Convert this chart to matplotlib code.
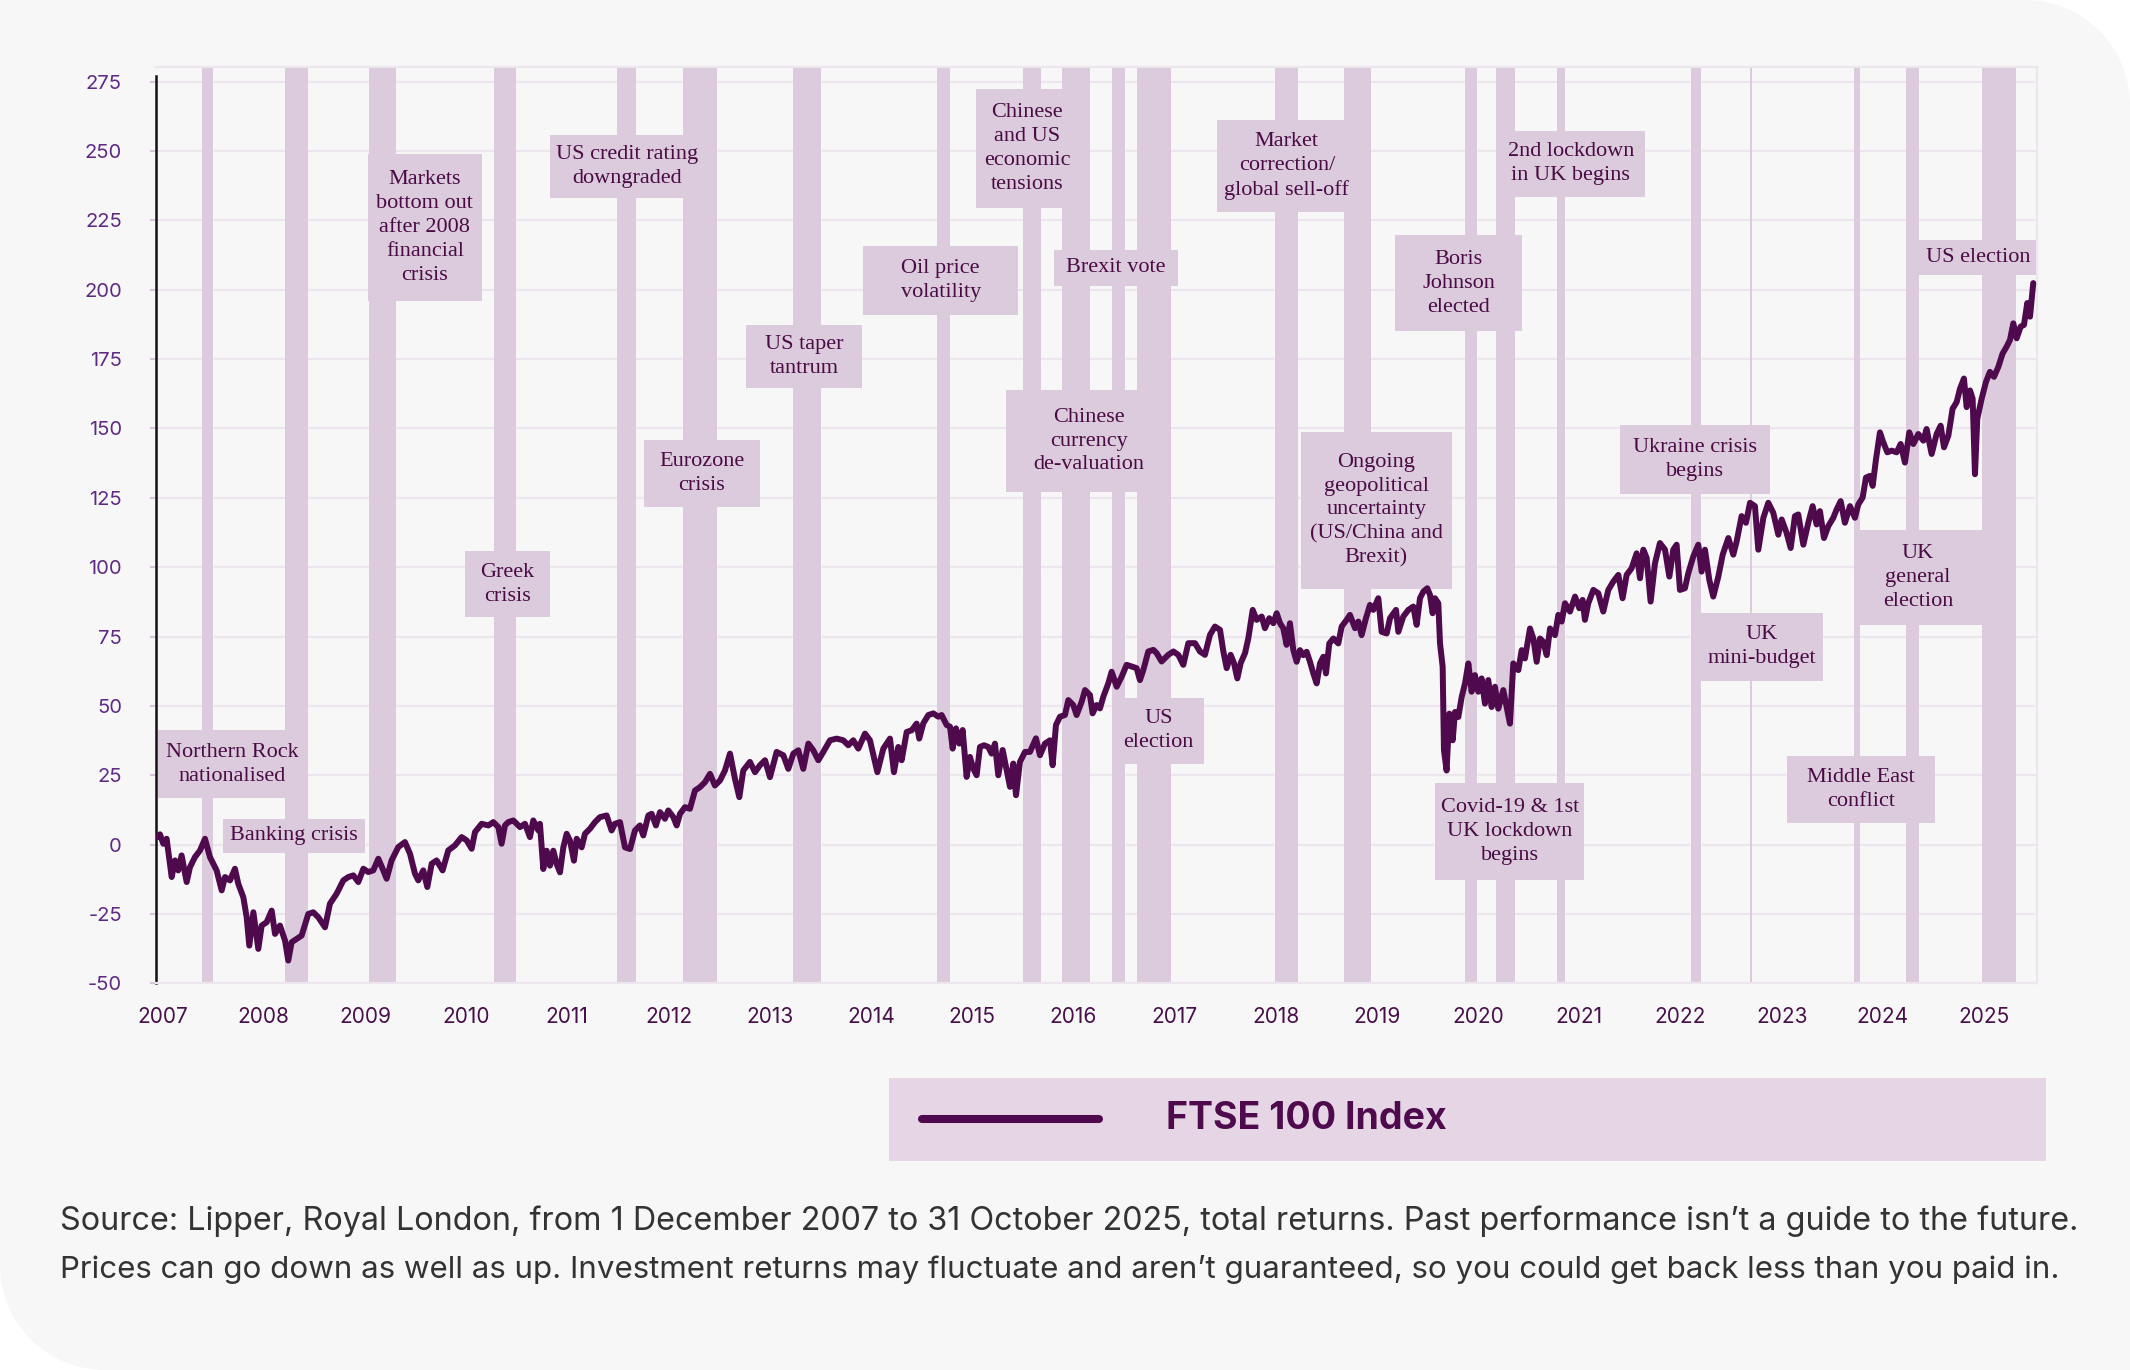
import matplotlib
matplotlib.use("Agg")
import matplotlib.pyplot as plt
from matplotlib.patches import Rectangle, PathPatch
from matplotlib.path import Path
from matplotlib.lines import Line2D
import matplotlib.transforms as mtransforms

plt.rcParams['font.family'] = ['Inter', 'DejaVu Sans']

# ---------------- data (x = position on the year axis) ----------------
years_2007_10 = [2006.949, 2006.975, 2007.008, 2007.041, 2007.091, 2007.124, 2007.156, 2007.189, 2007.239, 2007.272,
                 2007.321, 2007.371, 2007.420, 2007.469, 2007.535, 2007.585, 2007.618, 2007.667, 2007.716, 2007.749,
                 2007.799, 2007.832, 2007.858, 2007.898, 2007.947, 2007.980, 2008.029, 2008.079, 2008.112, 2008.161,
                 2008.211, 2008.243, 2008.276, 2008.326, 2008.375, 2008.441, 2008.490, 2008.540, 2008.606, 2008.655,
                 2008.721, 2008.787, 2008.836, 2008.886, 2008.935, 2008.985, 2009.034, 2009.083, 2009.133, 2009.182,
                 2009.215, 2009.264, 2009.330, 2009.396, 2009.446, 2009.495, 2009.528, 2009.577, 2009.617, 2009.660,
                 2009.709, 2009.768, 2009.824, 2009.890, 2009.956, 2010.006, 2010.055, 2010.088, 2010.154, 2010.220,
                 2010.269, 2010.319, 2010.351, 2010.384, 2010.417, 2010.467, 2010.533, 2010.582, 2010.631, 2010.664,
                 2010.714]
values_2007_10 = [2.7, 3.7, 0.3, 2.1, -11.7, -5.7, -9.3, -3.9, -13.5, -8.1,
                  -4.5, -2.1, 2.1, -4.5, -9.3, -16.5, -11.7, -12.9, -8.7, -14.1,
                  -19.0, -26.2, -36.4, -24.4, -37.6, -29.2, -28.0, -23.8, -32.2, -29.2,
                  -34.6, -41.8, -35.2, -34.0, -32.8, -25.0, -24.4, -26.2, -29.8, -21.3,
                  -17.7, -12.9, -11.7, -11.1, -13.5, -8.7, -9.9, -9.3, -5.1, -9.3,
                  -12.3, -5.7, -0.9, 0.9, -3.3, -10.5, -12.9, -9.3, -15.3, -6.9,
                  -5.7, -9.3, -2.1, -0.3, 2.7, 1.5, -1.5, 4.5, 7.5, 6.9,
                  8.1, 6.3, 0.3, 6.9, 8.1, 8.7, 6.3, 7.5, 2.7, 8.7,
                  5.1]

years_2010_14 = [2010.730, 2010.763, 2010.796, 2010.829, 2010.862, 2010.895, 2010.928, 2010.961, 2010.994, 2011.027,
                 2011.066, 2011.093, 2011.142, 2011.175, 2011.224, 2011.274, 2011.323, 2011.389, 2011.438, 2011.471,
                 2011.521, 2011.570, 2011.620, 2011.669, 2011.718, 2011.751, 2011.801, 2011.834, 2011.876, 2011.916,
                 2011.965, 2011.998, 2012.048, 2012.081, 2012.114, 2012.163, 2012.212, 2012.262, 2012.311, 2012.361,
                 2012.410, 2012.459, 2012.509, 2012.558, 2012.608, 2012.657, 2012.700, 2012.739, 2012.805, 2012.855,
                 2012.904, 2012.954, 2013.003, 2013.069, 2013.135, 2013.184, 2013.234, 2013.283, 2013.332, 2013.382,
                 2013.431, 2013.481, 2013.530, 2013.596, 2013.662, 2013.727, 2013.777, 2013.826, 2013.876, 2013.942,
                 2013.991, 2014.064, 2014.123, 2014.189, 2014.228, 2014.271, 2014.304, 2014.354, 2014.403, 2014.452,
                 2014.478]
values_2010_14 = [7.5, -8.8, -2.2, -7.6, -2.2, -7.0, -10.0, -1.0, 3.9, 1.4,
                  -5.8, 2.1, -1.0, 3.9, 5.7, 8.1, 9.9, 10.5, 5.1, 7.5,
                  8.1, -1.0, -1.6, 5.1, 6.9, 3.3, 10.5, 11.1, 6.9, 11.7,
                  9.3, 12.3, 9.9, 6.9, 11.1, 13.5, 12.9, 19.5, 20.7, 22.5,
                  25.5, 21.3, 23.1, 26.7, 32.8, 23.7, 17.1, 26.7, 29.8, 26.1,
                  28.6, 30.4, 24.3, 33.4, 32.2, 27.3, 32.8, 34.0, 27.3, 36.4,
                  34.0, 30.4, 33.4, 37.6, 38.2, 37.6, 35.8, 37.6, 34.6, 40.0,
                  37.6, 26.1, 34.6, 38.2, 26.1, 35.2, 30.4, 40.6, 41.2, 43.6,
                  38.2]

years_2014_18 = [2014.518, 2014.568, 2014.617, 2014.666, 2014.699, 2014.749, 2014.782, 2014.808, 2014.841, 2014.874,
                 2014.907, 2014.946, 2014.979, 2015.012, 2015.045, 2015.078, 2015.118, 2015.160, 2015.193, 2015.226,
                 2015.259, 2015.302, 2015.342, 2015.375, 2015.407, 2015.434, 2015.473, 2015.523, 2015.572, 2015.631,
                 2015.671, 2015.720, 2015.770, 2015.796, 2015.829, 2015.869, 2015.918, 2015.951, 2016.000, 2016.033,
                 2016.083, 2016.116, 2016.165, 2016.191, 2016.231, 2016.264, 2016.297, 2016.346, 2016.379, 2016.429,
                 2016.478, 2016.527, 2016.577, 2016.626, 2016.659, 2016.692, 2016.741, 2016.791, 2016.824, 2016.873,
                 2016.939, 2016.989, 2017.038, 2017.087, 2017.137, 2017.203, 2017.252, 2017.301, 2017.351, 2017.400,
                 2017.450, 2017.483, 2017.516, 2017.555, 2017.588, 2017.621, 2017.654, 2017.697, 2017.730, 2017.773,
                 2017.812, 2017.862, 2017.894, 2017.937, 2017.977, 2018.010, 2018.043, 2018.075, 2018.108, 2018.141,
                 2018.174]
values_2014_18 = [43.7, 46.7, 47.3, 46.1, 46.7, 43.1, 42.5, 34.6, 41.9, 36.4,
                  41.3, 24.4, 31.6, 27.4, 25.0, 35.2, 35.8, 35.2, 32.8, 36.4,
                  25.0, 34.1, 26.8, 20.8, 29.2, 17.8, 29.8, 33.4, 33.4, 38.3,
                  32.2, 36.4, 37.6, 28.6, 43.1, 46.1, 46.7, 52.1, 50.3, 46.7,
                  51.5, 55.7, 53.9, 47.3, 50.3, 49.1, 53.3, 58.1, 62.3, 56.9,
                  60.5, 64.8, 64.2, 63.6, 59.3, 62.9, 69.6, 70.2, 69.0, 66.0,
                  68.4, 69.6, 68.4, 64.8, 72.6, 72.6, 69.6, 68.4, 75.6, 78.6,
                  77.4, 69.6, 63.6, 68.4, 65.4, 59.9, 65.4, 69.0, 74.4, 84.6,
                  81.0, 82.2, 78.0, 81.6, 79.8, 83.4, 79.8, 78.0, 72.0, 79.8,
                  70.2]

years_2018_21 = [2018.207, 2018.240, 2018.273, 2018.306, 2018.339, 2018.372, 2018.405, 2018.438, 2018.471, 2018.497,
                 2018.530, 2018.570, 2018.619, 2018.652, 2018.701, 2018.734, 2018.784, 2018.817, 2018.849, 2018.892,
                 2018.932, 2018.965, 2019.014, 2019.047, 2019.097, 2019.130, 2019.189, 2019.212, 2019.261, 2019.311,
                 2019.360, 2019.393, 2019.426, 2019.459, 2019.498, 2019.525, 2019.551, 2019.574, 2019.607, 2019.624,
                 2019.650, 2019.663, 2019.689, 2019.716, 2019.749, 2019.772, 2019.805, 2019.838, 2019.871, 2019.904,
                 2019.936, 2019.969, 2020.002, 2020.035, 2020.068, 2020.101, 2020.134, 2020.167, 2020.200, 2020.249,
                 2020.282, 2020.315, 2020.348, 2020.398, 2020.431, 2020.463, 2020.513, 2020.546, 2020.579, 2020.612,
                 2020.645, 2020.678, 2020.711, 2020.760, 2020.793, 2020.826, 2020.859, 2020.908, 2020.958, 2021.000,
                 2021.033, 2021.056, 2021.089, 2021.139, 2021.188, 2021.237, 2021.287, 2021.336, 2021.386, 2021.428,
                 2021.468, 2021.517, 2021.567, 2021.600, 2021.633, 2021.666, 2021.705, 2021.748, 2021.797, 2021.847,
                 2021.890, 2021.929, 2021.962]
values_2018_21 = [65.9, 70.1, 68.3, 69.5, 65.9, 61.7, 58.1, 65.3, 67.7, 61.7,
                  72.5, 74.3, 72.5, 78.6, 81.0, 82.8, 78.0, 80.4, 75.5, 81.6,
                  86.4, 84.6, 88.8, 76.7, 76.1, 81.6, 84.6, 76.7, 82.2, 84.6,
                  85.8, 79.2, 88.8, 91.2, 92.4, 90.0, 83.4, 88.8, 87.0, 72.5,
                  64.1, 34.0, 26.7, 47.2, 37.6, 47.8, 46.0, 53.2, 58.1, 65.3,
                  55.1, 61.1, 55.1, 59.9, 50.8, 59.3, 49.6, 56.9, 49.0, 55.7,
                  49.6, 43.6, 65.3, 62.9, 70.1, 67.1, 77.9, 74.3, 65.9, 74.3,
                  73.1, 68.3, 77.9, 75.5, 82.8, 80.4, 87.0, 84.0, 89.4, 85.2,
                  88.2, 81.0, 87.0, 91.8, 90.6, 84.0, 91.8, 94.8, 97.2, 88.8,
                  97.2, 99.6, 105.0, 96.0, 106.3, 103.3, 87.6, 101.4, 108.7, 106.3,
                  96.6, 106.3, 108.1]

years_2022_25 = [2021.995, 2022.044, 2022.077, 2022.127, 2022.176, 2022.209, 2022.242, 2022.285, 2022.324, 2022.374,
                 2022.417, 2022.473, 2022.522, 2022.555, 2022.604, 2022.647, 2022.687, 2022.736, 2022.769, 2022.819,
                 2022.868, 2022.917, 2022.967, 2023.000, 2023.049, 2023.089, 2023.131, 2023.164, 2023.214, 2023.263,
                 2023.306, 2023.345, 2023.378, 2023.418, 2023.461, 2023.510, 2023.543, 2023.583, 2023.625, 2023.675,
                 2023.724, 2023.757, 2023.800, 2023.833, 2023.872, 2023.899, 2023.932, 2023.971, 2024.004, 2024.044,
                 2024.087, 2024.136, 2024.176, 2024.218, 2024.261, 2024.301, 2024.350, 2024.400, 2024.432, 2024.482,
                 2024.531, 2024.571, 2024.604, 2024.647, 2024.689, 2024.729, 2024.762, 2024.801, 2024.828, 2024.861,
                 2024.887, 2024.910, 2024.933, 2024.976, 2025.019, 2025.058, 2025.098, 2025.141, 2025.183, 2025.223,
                 2025.256, 2025.289, 2025.322, 2025.361, 2025.394, 2025.427, 2025.454, 2025.486]
values_2022_25 = [91.8, 92.4, 97.8, 103.9, 108.1, 98.4, 106.3, 95.4, 89.4, 96.6,
                  104.5, 110.5, 104.5, 109.3, 118.4, 116.0, 123.2, 122.0, 106.3, 117.8,
                  123.2, 119.6, 111.7, 117.2, 112.3, 106.9, 118.4, 119.0, 108.1, 116.0,
                  122.0, 115.4, 120.2, 110.5, 114.8, 117.8, 120.8, 123.8, 116.0, 122.0,
                  117.8, 122.6, 125.1, 132.3, 132.9, 129.3, 138.9, 148.6, 145.0, 141.4,
                  142.0, 141.4, 144.4, 137.7, 148.6, 144.4, 148.0, 145.6, 149.8, 140.8,
                  148.0, 151.0, 143.2, 147.4, 157.1, 159.5, 164.3, 168.0, 157.7, 163.7,
                  160.7, 133.5, 153.5, 160.7, 166.8, 170.4, 168.6, 172.2, 177.0, 179.5,
                  181.9, 187.9, 182.5, 186.7, 187.3, 195.2, 190.3, 202.4]

# event periods (start, end) on the year axis
event_starts = [2007.388, 2008.213, 2009.042, 2010.278, 2011.491, 2012.143, 2013.230, 2014.658, 2015.501, 2015.893,
                2016.387, 2016.634, 2017.989, 2018.677, 2019.871, 2020.176, 2020.779, 2022.104, 2022.687, 2023.715,
                2024.229, 2024.983]
event_ends = [2007.503, 2008.434, 2009.311, 2010.494, 2011.676, 2012.479, 2013.507, 2014.782, 2015.686, 2016.167,
              2016.511, 2016.969, 2018.222, 2018.942, 2019.987, 2020.365, 2020.862, 2022.203, 2022.711, 2023.774,
              2024.357, 2025.319]

year_labels = [str(y) for y in range(2007, 2026)]
y_ticks = list(range(-50, 276, 25))

event_labels = [
    "Northern Rock\nnationalised", "Banking crisis",
    "Markets\nbottom out\nafter 2008\nfinancial\ncrisis", "Greek\ncrisis",
    "US credit rating\ndowngraded", "Eurozone\ncrisis", "US taper\ntantrum",
    "Oil price\nvolatility", "Chinese\nand US\neconomic\ntensions", "Brexit vote",
    "Chinese\ncurrency\nde-valuation", "US\nelection",
    "Market\ncorrection/\nglobal sell-off",
    "Ongoing\ngeopolitical\nuncertainty\n(US/China and\nBrexit)",
    "Boris\nJohnson\nelected", "Covid-19 & 1st\nUK lockdown\nbegins",
    "2nd lockdown\nin UK begins", "Ukraine crisis\nbegins", "UK\nmini-budget",
    "Middle East\nconflict", "UK\ngeneral\nelection", "US election",
]
# label box layout: (left, right, bottom, top) in axis units
label_boxes = [
    (2006.956, 2008.428, 16.8, 41.2), (2007.600, 2009.003, -3.2, 9.4),
    (2009.030, 2010.154, 195.8, 248.9), (2009.991, 2010.825, 81.9, 105.9),
    (2010.825, 2012.361, 233.0, 255.8), (2011.756, 2012.902, 121.8, 145.8),
    (2012.770, 2013.917, 164.7, 187.3), (2013.926, 2015.453, 191.0, 215.8),
    (2015.041, 2016.043, 229.4, 272.3), (2015.809, 2017.035, 201.5, 214.3),
    (2015.333, 2016.969, 127.0, 163.9), (2016.387, 2017.296, 29.1, 53.0),
    (2017.420, 2018.800, 228.1, 261.1), (2018.249, 2019.740, 92.3, 148.7),
    (2019.179, 2020.434, 185.0, 219.6), (2019.574, 2021.050, -12.6, 22.1),
    (2020.181, 2021.652, 233.5, 257.2), (2021.399, 2022.880, 126.5, 151.2),
    (2022.200, 2023.408, 59.0, 83.6), (2023.052, 2024.512, 7.8, 31.9),
    (2023.717, 2024.977, 79.1, 113.5), (2024.357, 2025.523, 205.2, 217.9),
]

# ---------------- styling ----------------
W, H = 2130, 1370
BG = '#F7F7F7'
BAND = '#DBCBDD'
LINE = '#4E0A4D'
GRID = '#EEE6EF'
TEXT_DARK = '#4A0B45'

fig = plt.figure(figsize=(W / 100, H / 100), dpi=100)
fig.patch.set_facecolor('white')

# card background with two rounded corners
r = 105
k = 0.5523 * r
verts = [(r, 0), (W, 0), (W, H - r), (W, H - r + k), (W - r + k, H), (W - r, H),
         (0, H), (0, r), (0, r - k), (r - k, 0), (r, 0), (r, 0)]
codes = [Path.MOVETO, Path.LINETO, Path.LINETO, Path.CURVE4, Path.CURVE4, Path.CURVE4,
         Path.LINETO, Path.LINETO, Path.CURVE4, Path.CURVE4, Path.CURVE4, Path.CLOSEPOLY]
px2fig = mtransforms.Affine2D().scale(1 / W, 1 / H) + fig.transFigure
fig.add_artist(PathPatch(Path(verts, codes), facecolor=BG, edgecolor='none',
                         transform=px2fig, zorder=-10))

left, right, top, bottom = 156, 2037, 66.7, 983.3
ax = fig.add_axes([left / W, (H - bottom) / H, (right - left) / W, (bottom - top) / H])
ax.set_facecolor('none')
ax.set_xlim(2006.936, 2025.523)
ax.set_ylim(-50, 280.4)

for yv in y_ticks:
    ax.axhline(yv, color=GRID, lw=1.6, zorder=0)

for s, e in zip(event_starts, event_ends):
    ax.axvspan(s, e, color=BAND, lw=0, zorder=1)

for lab, (x0, x1, y0, y1) in zip(event_labels, label_boxes):
    ax.add_patch(Rectangle((x0, y0), x1 - x0, y1 - y0, facecolor=BAND,
                           edgecolor='none', zorder=2))
    ax.text((x0 + x1) / 2, (y0 + y1) / 2, lab, ha='center', va='center',
            fontsize=16, family=['Liberation Serif', 'DejaVu Serif'],
            color=TEXT_DARK, linespacing=1.35, zorder=3)

dates = years_2007_10 + years_2010_14 + years_2014_18 + years_2018_21 + years_2022_25
ftse = values_2007_10 + values_2010_14 + values_2014_18 + values_2018_21 + values_2022_25
ax.plot(dates, ftse, color=LINE, lw=4.3, zorder=4, solid_joinstyle='round',
        solid_capstyle='round', label='FTSE 100 Index')

ax.set_yticks(y_ticks)
ax.set_yticklabels([str(v) for v in y_ticks], fontsize=14.5, color='#5E2A84')
ax.tick_params(axis='y', length=4.5, width=1.5, color='#D6C4DA', pad=20)
ax.set_xticks(range(2007, 2026))
ax.set_xticklabels(year_labels, fontsize=15, color='#471048')
ax.tick_params(axis='x', length=0, pad=17)

ax.spines['left'].set_color('#111111')
ax.spines['left'].set_linewidth(1.8)
ax.spines['left'].set_bounds(-50, 277)
for sp in ('top', 'right', 'bottom'):
    ax.spines[sp].set_color(GRID)
    ax.spines[sp].set_linewidth(1.6)

# legend panel
fig.add_artist(Rectangle((888.6, H - 1161), 2046 - 888.6, 1161 - 1078, transform=px2fig,
                         facecolor='#E6D5E5', edgecolor='none', zorder=1))
fig.add_artist(Line2D([922, 1099], [H - 1119, H - 1119], transform=px2fig, color=LINE,
                      lw=5.8, solid_capstyle='round', zorder=2))
fig.text(1166 / W, (H - 1119) / H, 'FTSE 100 Index', ha='left', va='center',
         fontsize=27, fontweight='bold', color=LINE, zorder=3)

# footer
foot1 = fig.text(60 / W, (H - 1230) / H,
                 "Source: Lipper, Royal London, from 1 December 2007 to 31 October 2025, total returns. "
                 "Past performance isn\u2019t a guide to the future.",
                 ha='left', va='baseline', fontsize=21, color='#333333')
foot2 = fig.text(60 / W, (H - 1278) / H,
                 "Prices can go down as well as up. Investment returns may fluctuate and aren\u2019t guaranteed, "
                 "so you could get back less than you paid in.",
                 ha='left', va='baseline', fontsize=21, color='#333333')
fig.canvas.draw()
for t, target in ((foot1, 2079 - 60), (foot2, 2063 - 60)):
    w = t.get_window_extent().width
    t.set_fontsize(21 * target / w)

fig.savefig('out.png', dpi=100, facecolor=fig.get_facecolor())
